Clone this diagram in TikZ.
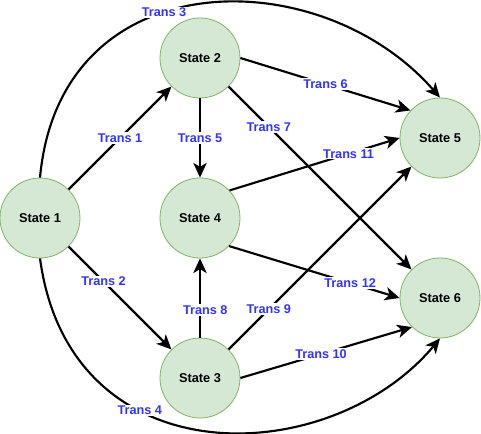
\documentclass[tikz,border=0pt]{standalone}
\usepackage{fontspec}
\setmainfont{Liberation Sans}
\usetikzlibrary{arrows.meta}
\definecolor{stfill}{HTML}{D5E8D4}
\definecolor{stline}{HTML}{82B366}
\definecolor{transblue}{HTML}{3333FF}

\begin{document}
\begin{tikzpicture}[x=0.75pt, y=-0.75pt, >={Stealth[length=11pt,width=10pt,inset=3pt]},
  state/.style={circle, draw=stline, fill=stfill, line width=0.6pt, minimum size=60pt, inner sep=0pt,
    font=\bfseries\fontsize{9.6}{11}\selectfont},
  edge/.style={->, line width=1.6pt},
  lbl/.style={fill=white, inner sep=1pt, text=transblue, font=\bfseries\fontsize{9.5}{11}\selectfont}]

\useasboundingbox (0,0) rectangle (481,434);

% states
\node[state] (s1) at (40,218) {State 1};
\node[state] (s2) at (200,58) {State 2};
\node[state] (s4) at (200,218) {State 4};
\node[state] (s3) at (200,378) {State 3};
\node[state] (s5) at (440,138) {State 5};
\node[state] (s6) at (440,298) {State 6};

% from state 1
\draw[edge] (s1.45) -- (s2.225) node[lbl, pos=0.5] {Trans 1};
\draw[edge] (s1.-45) -- (s3.135) node[lbl, pos=0.34] {Trans 2};
\draw[edge] (s1.north) .. controls (60,-40) and (320,-40) .. (s5.north) node[lbl, pos=0.42] {Trans 3};
\draw[edge] (s1.south) .. controls (70,480) and (330,470) .. (s6.south) node[lbl, pos=0.35] {Trans 4};

% from state 2
\draw[edge] (s2.south) -- (s4.north) node[lbl, pos=0.5] {Trans 5};
\draw[edge] (s2.east) -- (s5.137) node[lbl, pos=0.5] {Trans 6};
\draw[edge] (s2.-45) -- (s6.135) node[lbl, pos=0.22] {Trans 7};

% from state 3
\draw[edge] (s3.north) -- (s4.south) node[lbl, pos=0.35, xshift=4pt] {Trans 8};
\draw[edge] (s3.45) -- (s5.225) node[lbl, pos=0.22] {Trans 9};
\draw[edge] (s3.east) -- (s6.226) node[lbl, pos=0.47] {Trans 10};

% from state 4
\draw[edge] (s4.43) -- (s5.west) node[lbl, pos=0.7] {Trans 11};
\draw[edge] (s4.-44) -- (s6.west) node[lbl, pos=0.71] {Trans 12};

\end{tikzpicture}
\end{document}
